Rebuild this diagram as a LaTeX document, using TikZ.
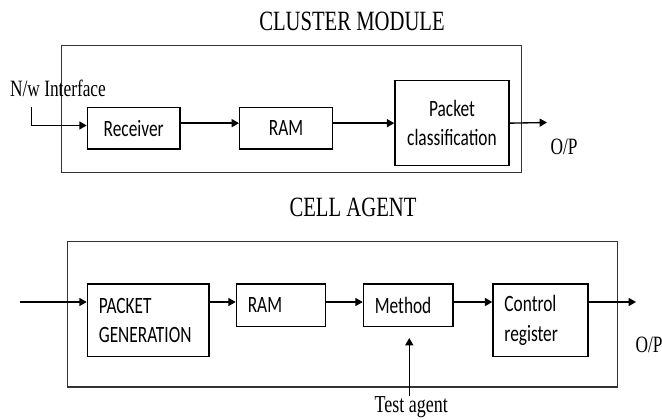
\documentclass[tikz,border=0pt]{standalone}
\usepackage{fontspec}
\usepackage{graphicx}
\setmainfont{Liberation Serif}
\newfontfamily\calibrifont{Carlito}
\usetikzlibrary{arrows.meta}

\definecolor{framegray}{RGB}{51,51,51}
% the printed text is drawn taller than it is wide
\newcommand{\tall}[1]{\scalebox{1}[1.35]{#1}}

\tikzset{every picture/.style={line width=0.75pt}}
\tikzset{
	frame/.style={draw=framegray, line width=0.8pt, inner sep=0pt, anchor=north west},
	block/.style={draw, line width=1pt, inner sep=0pt, anchor=north west, align=center, font=\calibrifont\fontsize{13}{22}\selectfont},
	cellblock/.style={block, align=left, inner xsep=8.6pt, text width=#1},
	title/.style={inner sep=0pt, font=\fontsize{15.5}{18}\selectfont},
	lbl/.style={inner sep=0pt, font=\fontsize{13}{15}\selectfont},
	flow/.style={line width=1pt, -{Triangle[length=5.5pt,width=6pt]}}
}

\begin{document}
\begin{tikzpicture}[x=0.75pt,y=0.75pt,yscale=-1,xscale=1]
	\useasboundingbox (0,0) rectangle (662,420);
	
	% Text Node
	\draw (352,21) node [title] (clustertitle) {\tall{CLUSTER MODULE}};
	% Text Node
	\draw (353,207.5) node [title] (celltitle) {\tall{CELL AGENT}};
	
	%Shape: Rectangle [cluster module]
	\draw (61,45) node [frame, minimum width=344.8pt, minimum height=95pt] (clusterbox) {};
	%Shape: Rectangle
	\draw (86.7,106.7) node [block, minimum width=69.5pt, minimum height=31.2pt] (recv) {\tall{Receiver}};
	%Shape: Rectangle
	\draw (239,106.7) node [block, minimum width=69.5pt, minimum height=31.2pt] (ram1) {\tall{RAM}};
	%Shape: Rectangle
	\draw (394.3,80) node [block, minimum width=85.5pt, minimum height=63.75pt] (pc) {\tall{Packet}\\\tall{classification}};
	
	% Text Node
	\draw (58,88.3) node [lbl] (nwif) {\tall{N/w Interface}};
	% Text Node
	\draw (564,146.7) node [lbl] (opA) {\tall{O/P}};
	\coordinate (nwtop) at (31.7,106.7);
	\coordinate (outA) at (547,122.5);
	
	%Straight Lines
	\draw [flow] (nwtop) |- ([yshift=-2pt]recv.west);
	\draw [flow] (recv.east |- pc) -- (ram1.west |- pc);
	\draw [flow] (ram1.east |- pc) -- (pc.west);
	\draw [flow] (pc.east) -- (outA);
	
	%Shape: Rectangle [cell agent]
	\draw (67.3,241) node [frame, minimum width=412pt, minimum height=109.1pt] (cellbox) {};
	%Shape: Rectangle
	\draw (86.7,283.3) node [cellblock=74pt, minimum height=54.3pt] (pg) {\tall{PACKET}\\\tall{GENERATION}};
	%Shape: Rectangle
	\draw (235.7,283.3) node [cellblock=49.8pt, minimum height=32pt] (ram2) {\tall{RAM}};
	%Shape: Rectangle
	\draw (362.7,283.3) node [cellblock=50pt, minimum height=32pt] (meth) {\tall{Method}};
	%Shape: Rectangle
	\draw (492.3,283.3) node [cellblock=54pt, minimum height=54.5pt] (cr) {\tall{Control}\\\tall{register}};
	
	% Text Node
	\draw (411.3,406.7) node [lbl, font=\fontsize{13.5}{15}\selectfont] (testag) {\tall{Test agent}};
	% Text Node
	\draw (635,345) node [lbl, anchor=west] (opB) {\tall{O/P}};
	\coordinate (inB) at (20,302);
	\coordinate (outB) at (636,302);
	\coordinate (tip) at (409.3,338);
	
	%Straight Lines
	\draw [flow] (inB) -- (inB -| pg.west);
	\draw [flow] (pg.east |- inB) -- (ram2.west |- inB);
	\draw [flow] (ram2.east |- inB) -- (meth.west |- inB);
	\draw [flow] (meth.east |- inB) -- (cr.west |- inB);
	\draw [flow] (cr.east |- inB) -- (outB);
	\draw [flow] (testag.north -| tip) -- (tip);
	
\end{tikzpicture}
\end{document}
